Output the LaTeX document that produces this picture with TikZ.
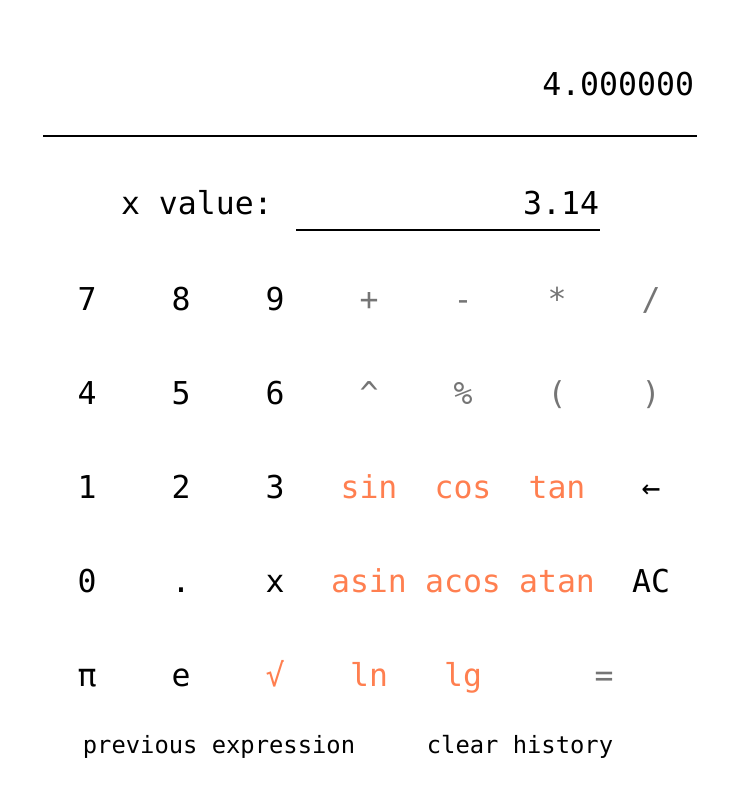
\documentclass[tikz,border=0pt]{standalone}
\usepackage{fontspec}
\usepackage{tikz}
\newfontfamily\calcfont{DejaVu Sans Mono}
\definecolor{opgrey}{RGB}{117,117,117}
\definecolor{fncoral}{RGB}{255,127,80}
\newcommand{\keytext}[1]{{\calcfont\fontsize{31.5}{36}\selectfont #1}}
\newcommand{\smalltext}[1]{{\calcfont\fontsize{23.8}{28}\selectfont #1}}

\begin{document}
\begin{tikzpicture}[
    x=1pt,
    y=-1pt,
    line width=2pt,
    key/.style={inner sep=0pt,anchor=base,text=black},
    op key/.style={key,text=opgrey},
    fn key/.style={key,text=fncoral}
    ]
    \useasboundingbox (0,0) rectangle (730,809);

    % display
    \node[key,anchor=base east] (result) at (695,95) {\keytext{4.000000}};
    \coordinate (ruleL) at (43,135.5);
    \coordinate (ruleR) at (697,135.5);
    \draw (ruleL) -- (ruleR);

    \node[key,anchor=base west] (xlabel) at (120,214) {\keytext{x value:}};
    \node[key,anchor=base east] (xvalue) at (600,214) {\keytext{3.14}};
    \coordinate (fieldL) at (296,230);
    \coordinate (fieldR) at (600,230);
    \draw (fieldL) -- (fieldR);

    % keys
    \node[key] (k7) at (87,310) {\keytext{7}};
    \node[key] (k8) at (181,310) {\keytext{8}};
    \node[key] (k9) at (275,310) {\keytext{9}};
    \node[op key] (kplus) at (369,310) {\keytext{+}};
    \node[op key] (kminus) at (463,310) {\keytext{-}};
    \node[op key] (ktimes) at (557,310) {\keytext{*}};
    \node[op key] (kdiv) at (651,310) {\keytext{/}};

    \node[key] (k4) at (87,404) {\keytext{4}};
    \node[key] (k5) at (181,404) {\keytext{5}};
    \node[key] (k6) at (275,404) {\keytext{6}};
    \node[op key] (kpow) at (369,404) {\keytext{\^{}}};
    \node[op key] (kmod) at (463,404) {\keytext{\%}};
    \node[op key] (kopen) at (557,404) {\keytext{(}};
    \node[op key] (kclose) at (651,404) {\keytext{)}};

    \node[key] (k1) at (87,498) {\keytext{1}};
    \node[key] (k2) at (181,498) {\keytext{2}};
    \node[key] (k3) at (275,498) {\keytext{3}};
    \node[fn key] (ksin) at (369,498) {\keytext{sin}};
    \node[fn key] (kcos) at (463,498) {\keytext{cos}};
    \node[fn key] (ktan) at (557,498) {\keytext{tan}};
    \node[key] (kback) at (651,498) {\keytext{←}};

    \node[key] (k0) at (87,592) {\keytext{0}};
    \node[key] (kdot) at (181,592) {\keytext{.}};
    \node[key] (kx) at (275,592) {\keytext{x}};
    \node[fn key] (kasin) at (369,592) {\keytext{asin}};
    \node[fn key] (kacos) at (463,592) {\keytext{acos}};
    \node[fn key] (katan) at (557,592) {\keytext{atan}};
    \node[key] (kac) at (651,592) {\keytext{AC}};

    \node[key] (kpi) at (87,686) {\keytext{π}};
    \node[key] (ke) at (181,686) {\keytext{e}};
    \node[fn key] (ksqrt) at (275,686) {\keytext{√}};
    \node[fn key] (kln) at (369,686) {\keytext{ln}};
    \node[fn key] (klg) at (463,686) {\keytext{lg}};
    \node[op key] (keq) at (604,686) {\keytext{=}};

    % history
    \node[key] (prev) at (219,753) {\smalltext{previous expression}};
    \node[key] (clear) at (520,753) {\smalltext{clear history}};
  \end{tikzpicture}
\end{document}
